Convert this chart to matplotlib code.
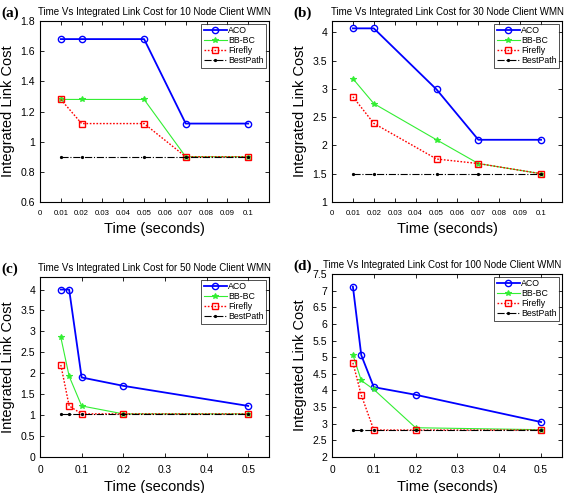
import matplotlib
matplotlib.use("Agg")
import matplotlib.pyplot as plt

plt.rcParams['font.family'] = ['Liberation Sans', 'DejaVu Sans']

# ---- data ----
x_small = [0.01, 0.02, 0.05, 0.07, 0.1]
x_large = [0.05, 0.07, 0.1, 0.2, 0.5]

aco_10 = [1.68, 1.68, 1.68, 1.12, 1.12]
bbbc_10 = [1.28, 1.28, 1.28, 0.90, 0.90]
firefly_10 = [1.28, 1.12, 1.12, 0.90, 0.90]
best_10 = [0.90, 0.90, 0.90, 0.90, 0.90]

aco_30 = [4.07, 4.07, 2.99, 2.10, 2.10]
bbbc_30 = [3.18, 2.74, 2.10, 1.68, 1.50]
firefly_30 = [2.86, 2.39, 1.76, 1.68, 1.50]
best_30 = [1.50, 1.50, 1.50, 1.50, 1.50]

aco_50 = [4.00, 4.00, 1.90, 1.70, 1.22]
bbbc_50 = [2.86, 1.93, 1.22, 1.03, 1.03]
firefly_50 = [2.20, 1.22, 1.03, 1.03, 1.03]
best_50 = [1.03, 1.03, 1.03, 1.03, 1.03]

aco_100 = [7.12, 5.06, 4.10, 3.87, 3.05]
bbbc_100 = [5.07, 4.30, 4.03, 2.88, 2.82]
firefly_100 = [4.83, 3.86, 2.81, 2.81, 2.81]
best_100 = [2.81, 2.81, 2.81, 2.81, 2.81]

titles = ["Time Vs Integrated Link Cost for 10 Node Client WMN",
          "Time Vs Integrated Link Cost for 30 Node Client WMN",
          "Time Vs Integrated Link Cost for 50 Node Client WMN",
          "Time Vs Integrated Link Cost for 100 Node Client WMN"]
panel_labels = ["(a)", "(b)", "(c)", "(d)"]
series_names = ["ACO", "BB-BC", "Firefly", "BestPath"]

xticks_small = [0, 0.01, 0.02, 0.03, 0.04, 0.05, 0.06, 0.07, 0.08, 0.09, 0.1]
xticklabels_small = ["0", "0.01", "0.02", "0.03", "0.04", "0.05", "0.06", "0.07", "0.08", "0.09", "0.1"]
xticks_large = [0, 0.1, 0.2, 0.3, 0.4, 0.5]
xticklabels_large = ["0", "0.1", "0.2", "0.3", "0.4", "0.5"]

yticks_a = [0.6, 0.8, 1.0, 1.2, 1.4, 1.6, 1.8]
yticklabels_a = ["0.6", "0.8", "1", "1.2", "1.4", "1.6", "1.8"]
yticks_b = [1, 1.5, 2, 2.5, 3, 3.5, 4]
yticklabels_b = ["1", "1.5", "2", "2.5", "3", "3.5", "4"]
yticks_c = [0, 0.5, 1, 1.5, 2, 2.5, 3, 3.5, 4]
yticklabels_c = ["0", "0.5", "1", "1.5", "2", "2.5", "3", "3.5", "4"]
yticks_d = [2, 2.5, 3, 3.5, 4, 4.5, 5, 5.5, 6, 6.5, 7, 7.5]
yticklabels_d = ["2", "2.5", "3", "3.5", "4", "4.5", "5", "5.5", "6", "6.5", "7", "7.5"]

W, H = 566, 493
fig = plt.figure(figsize=(W / 100, H / 100), dpi=100)

def rect(l, t, r, b):
    return [l / W, 1 - b / H, (r - l) / W, (b - t) / H]

panels = [
    dict(rect=rect(40, 21, 269, 202), x=x_small, ys=[aco_10, bbbc_10, firefly_10, best_10],
         xlim=(0, 0.11), ylim=(0.6, 1.8), xt=xticks_small, xtl=xticklabels_small,
         yt=yticks_a, ytl=yticklabels_a, xfs=5.6, tx=0.5),
    dict(rect=rect(332, 21, 562, 202), x=x_small, ys=[aco_30, bbbc_30, firefly_30, best_30],
         xlim=(0, 0.11), ylim=(1, 4.2), xt=xticks_small, xtl=xticklabels_small,
         yt=yticks_b, ytl=yticklabels_b, xfs=5.6, tx=0.5),
    dict(rect=rect(40, 277, 269, 457), x=x_large, ys=[aco_50, bbbc_50, firefly_50, best_50],
         xlim=(0, 0.55), ylim=(0, 4.3), xt=xticks_large, xtl=xticklabels_large,
         yt=yticks_c, ytl=yticklabels_c, xfs=7.3, tx=0.5),
    dict(rect=rect(332, 274, 562, 457), x=x_large, ys=[aco_100, bbbc_100, firefly_100, best_100],
         xlim=(0, 0.55), ylim=(2, 7.5), xt=xticks_large, xtl=xticklabels_large,
         yt=yticks_d, ytl=yticklabels_d, xfs=7.3, tx=0.478),
]

styles = [
    dict(color='#0000ff', lw=1.3, ls='-', marker='o', ms=4.5, mfc='none', mew=1.0),
    dict(color='#33ee33', lw=0.8, ls='-', marker='*', ms=4, mfc='#33ee33', mew=0.8),
    dict(color='#ff0000', lw=1.0, ls=(0, (1.2, 1.2)), marker='s', ms=4.5, mfc='none', mew=1.0),
    dict(color='#000000', lw=0.8, ls='-.', marker='.', ms=3, mfc='#000000', mew=0.8),
]

for i, p in enumerate(panels):
    ax = fig.add_axes(p['rect'])
    for name, y, st in zip(series_names, p['ys'], styles):
        ax.plot(p['x'], y, label=name, **st)
    ax.set_xlim(*p['xlim'])
    ax.set_ylim(*p['ylim'])
    ax.set_xticks(p['xt'])
    ax.set_xticklabels(p['xtl'], fontsize=p['xfs'])
    ax.set_yticks(p['yt'])
    ax.set_yticklabels(p['ytl'], fontsize=7.6)
    ax.tick_params(axis='x', pad=5.5)
    ax.tick_params(axis='y', pad=3.5)
    ax.tick_params(direction='in', top=True, right=True, length=3, width=0.6)
    for s in ax.spines.values():
        s.set_linewidth(0.8)
    ax.set_xlabel("Time (seconds)", fontsize=10.5, labelpad=4)
    ax.set_ylabel("Integrated Link Cost", fontsize=10.5, labelpad=4)
    ax.set_title(titles[i], fontsize=7.0, pad=4.5, x=p['tx'])
    leg = ax.legend(loc='upper right', fontsize=6.3, frameon=True, fancybox=False,
                    edgecolor='black', borderpad=0.3, labelspacing=0.12,
                    handlelength=2.6, handletextpad=0.2, borderaxespad=0.3)
    leg.get_frame().set_linewidth(0.6)
    pos = ax.get_position()
    fig.text(pos.x0 - 39 / W, pos.y1 + 1 / H, panel_labels[i], fontsize=11,
             fontweight='bold', family=['Liberation Serif', 'DejaVu Serif'],
             ha='left', va='bottom')

fig.savefig("out.png", dpi=100)
